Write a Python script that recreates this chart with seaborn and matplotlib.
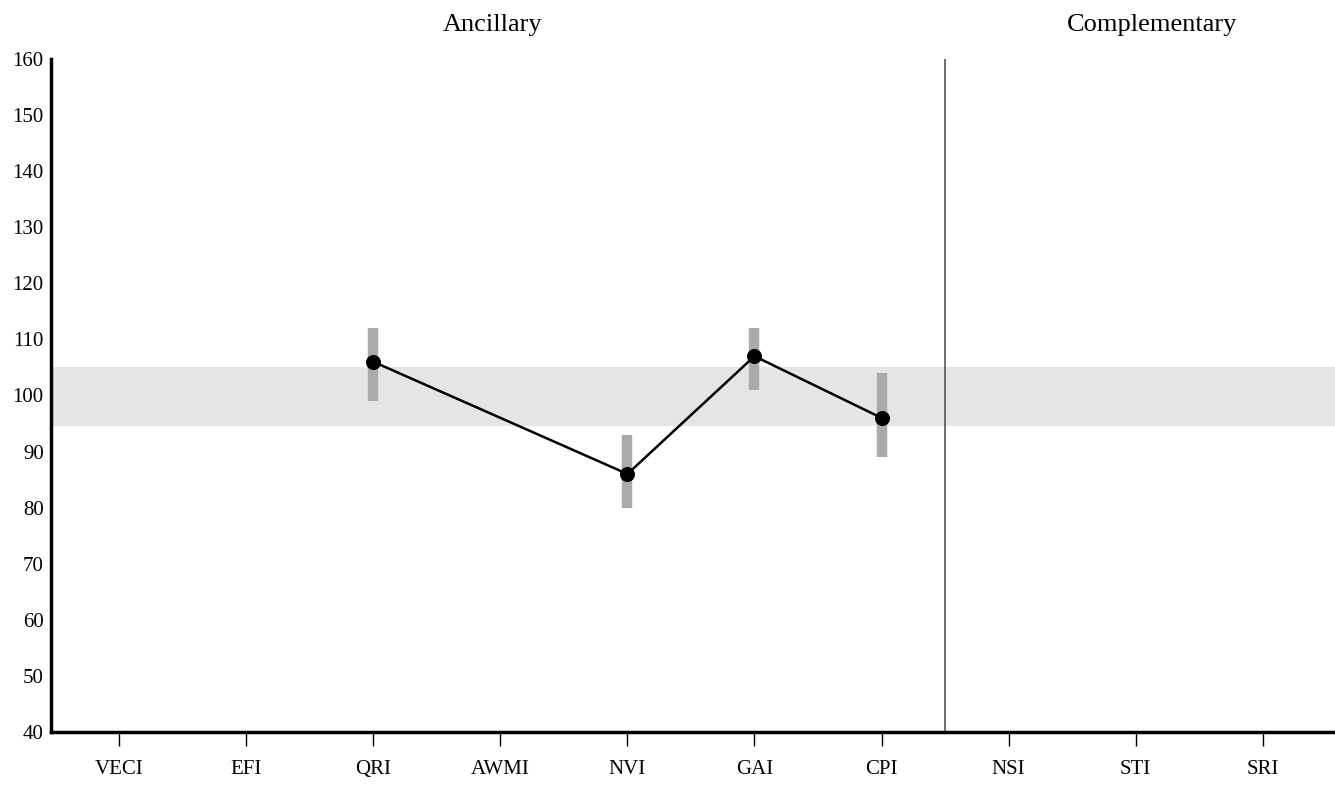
import numpy as np
import pandas as pd
import matplotlib
matplotlib.use('Agg')
import matplotlib.pyplot as plt
import seaborn as sns

# ── Données ───────────────────────────────────────────────
categories = ['VECI', 'EFI', 'QRI', 'AWMI', 'NVI', 'GAI', 'CPI', 'NSI', 'STI', 'SRI']
scores     = [np.nan, np.nan, 106, np.nan, 86, 107, 96, np.nan, np.nan, np.nan]
ci_low     = [np.nan, np.nan, 99, np.nan, 80, 101, 89, np.nan, np.nan, np.nan]
ci_high    = [np.nan, np.nan, 112, np.nan, 93, 112, 104, np.nan, np.nan, np.nan]
band_range = [94.5, 105]
groups     = ['Ancillary', 'Complementary']
group_span = [(0, 6), (7, 9)]

# ── Style ─────────────────────────────────────────────────
sns.set_theme(style='white')
plt.rcParams['font.family'] = ['Liberation Serif', 'DejaVu Serif']
plt.rcParams['text.color'] = 'black'
plt.rcParams['xtick.color'] = 'black'
plt.rcParams['ytick.color'] = 'black'

df = pd.DataFrame({'cat': categories, 'score': scores, 'lo': ci_low, 'hi': ci_high})
df['pos'] = np.arange(len(df))
pts = df.dropna()

fig = plt.figure(figsize=(13.35, 7.85), dpi=100)
ax = fig.add_axes([0.038, 0.0675, 0.962, 0.8575])

# bande normale
ax.axhspan(band_range[0], band_range[1], color='#e5e5e5', lw=0, zorder=0)

# intervalles
ax.vlines(pts['pos'], pts['lo'], pts['hi'], color='#aaaaaa', lw=7.5, zorder=1)

# scores
sns.lineplot(data=pts, x='pos', y='score', ax=ax, color='black', lw=1.8,
             marker='o', markersize=10, markeredgecolor='black', zorder=3)

# séparation des groupes
ax.axvline(group_span[0][1] + 0.5, color='#555555', lw=1.2, zorder=2)
for name, (a, b), dx in zip(groups, group_span, [-0.06, 0.13]):
    ax.text((a + b) / 2 + dx, 1.05, name, transform=ax.get_xaxis_transform(),
            ha='center', va='center', fontsize=19, color='black')

ax.set_xlim(-0.54, 9.57)
ax.set_ylim(40, 160)
ax.set_yticks(np.arange(40, 161, 10))
ax.set_xticks(df['pos'])
ax.set_xticklabels(categories, fontsize=15)
ax.tick_params(axis='y', labelsize=15, length=0, pad=5)
ax.tick_params(axis='x', length=10, width=1, direction='out', pad=10, bottom=True)
ax.set_xlabel('')
ax.set_ylabel('')

for s in ['top', 'right']:
    ax.spines[s].set_visible(False)
for s in ['left', 'bottom']:
    ax.spines[s].set_color('black')
    ax.spines[s].set_linewidth(2.5)

plt.savefig('out.png', dpi=100)
plt.close()
